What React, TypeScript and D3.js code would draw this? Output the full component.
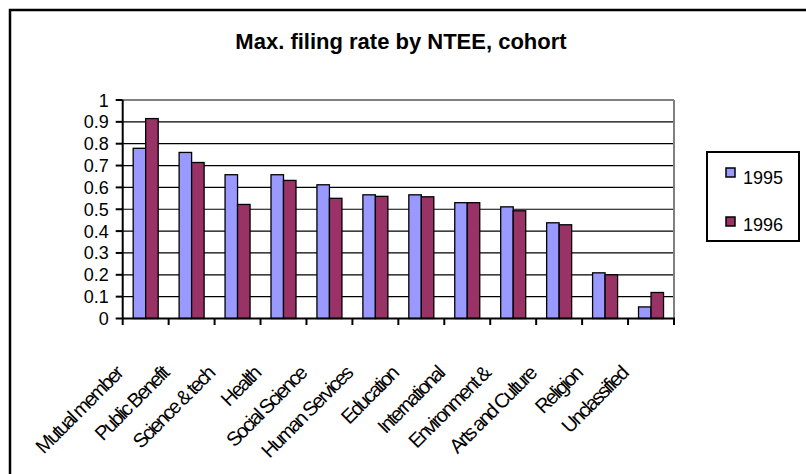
import React from "react";
import * as d3 from "d3";

const categories = [
  "Mutual member",
  "Public Benefit",
  "Science & tech",
  "Health",
  "Social Science",
  "Human Services",
  "Education",
  "International",
  "Environment &",
  "Arts and Culture",
  "Religion",
  "Unclassified",
];
const values1995 = [0.779, 0.76, 0.658, 0.658, 0.612, 0.566, 0.566, 0.53, 0.511, 0.438, 0.209, 0.053];
const values1996 = [0.915, 0.714, 0.522, 0.632, 0.55, 0.559, 0.557, 0.53, 0.493, 0.429, 0.2, 0.119];
const seriesNames = ["1995", "1996"];
const yTicks = [0, 0.1, 0.2, 0.3, 0.4, 0.5, 0.6, 0.7, 0.8, 0.9, 1];
const title = "Max. filing rate by NTEE, cohort";

const W = 806;
const H = 474;
const colors = ["#9999FF", "#993366"];
const FONT = "'Liberation Sans', Arial, sans-serif";

export default function App() {
  const left = 122.7;
  const right = 674;
  const top = 100;
  const bottom = 318.5;

  const x = d3.scaleBand<string>().domain(categories).range([left, right]).paddingInner(0).paddingOuter(0);
  const y = d3.scaleLinear().domain([0, 1]).range([bottom, top]);
  const barW = 12.5;
  const series = [values1995, values1996];

  return (
    <svg
      width={W}
      height={H}
      style={{ position: "absolute", left: 0, top: 0, background: "#fff" }}
      fontFamily={FONT}
    >
      <rect x={0} y={0} width={W} height={H} fill="#fff" />
      {/* outer chart border (cropped) */}
      <rect x={10} y={10} width={840} height={520} fill="none" stroke="#000" strokeWidth={2.5} />

      {/* title */}
      <text x={401} y={49} textAnchor="middle" fontSize={22} fontWeight="bold" fill="#000">
        {title}
      </text>

      {/* gridlines */}
      {yTicks.slice(1).map((t) => (
        <line
          key={"g" + t}
          x1={left}
          x2={right}
          y1={y(t)}
          y2={y(t)}
          stroke={t === 1 ? "#808080" : "#000"}
          strokeWidth={t === 1 ? 2 : 1.2}
        />
      ))}
      {/* plot right border */}
      <line x1={right} x2={right} y1={top} y2={bottom} stroke="#808080" strokeWidth={2} />

      {/* bars */}
      {categories.map((c, i) => {
        const cx = (x(c) as number) + x.bandwidth() / 2;
        return (
          <g key={c}>
            {series.map((vals, s) => (
              <rect
                key={s}
                x={cx - barW + s * barW}
                y={y(vals[i])}
                width={barW}
                height={bottom - y(vals[i])}
                fill={colors[s]}
                stroke="#000"
                strokeWidth={1.3}
              />
            ))}
          </g>
        );
      })}

      {/* y axis */}
      <line x1={left} x2={left} y1={top} y2={bottom} stroke="#000" strokeWidth={2} />
      {yTicks.map((t) => (
        <g key={"yt" + t}>
          <line x1={left - 7} x2={left} y1={y(t)} y2={y(t)} stroke="#000" strokeWidth={2} />
          <text x={left - 14} y={y(t) + 6.5} textAnchor="end" fontSize={18} fill="#000">
            {String(t)}
          </text>
        </g>
      ))}

      {/* x axis */}
      <line x1={left} x2={right + 1} y1={bottom} y2={bottom} stroke="#000" strokeWidth={2} />
      {[...categories.map((c) => x(c) as number), right].map((px, i) => (
        <line key={"xt" + i} x1={px} x2={px} y1={bottom} y2={bottom + 6.5} stroke="#000" strokeWidth={2} />
      ))}
      {categories.map((c) => {
        const cx = (x(c) as number) + x.bandwidth() / 2;
        const ax = cx - 22;
        const ay = 375;
        return (
          <text
            key={"xl" + c}
            x={ax}
            y={ay}
            textAnchor="end"
            fontSize={20}
            letterSpacing={-2}
            transform={`rotate(-45 ${ax} ${ay})`}
            fill="#000"
          >
            {c}
          </text>
        );
      })}

      {/* legend */}
      <rect x={707} y={152} width={92} height={89} fill="#fff" stroke="#000" strokeWidth={2} />
      {seriesNames.map((n, s) => (
        <g key={n}>
          <rect x={726} y={168 + s * 49} width={9} height={9} fill={colors[s]} stroke="#000" strokeWidth={1.5} />
          <text x={743} y={184 + s * 47} fontSize={18} fill="#000">
            {n}
          </text>
        </g>
      ))}
    </svg>
  );
}
